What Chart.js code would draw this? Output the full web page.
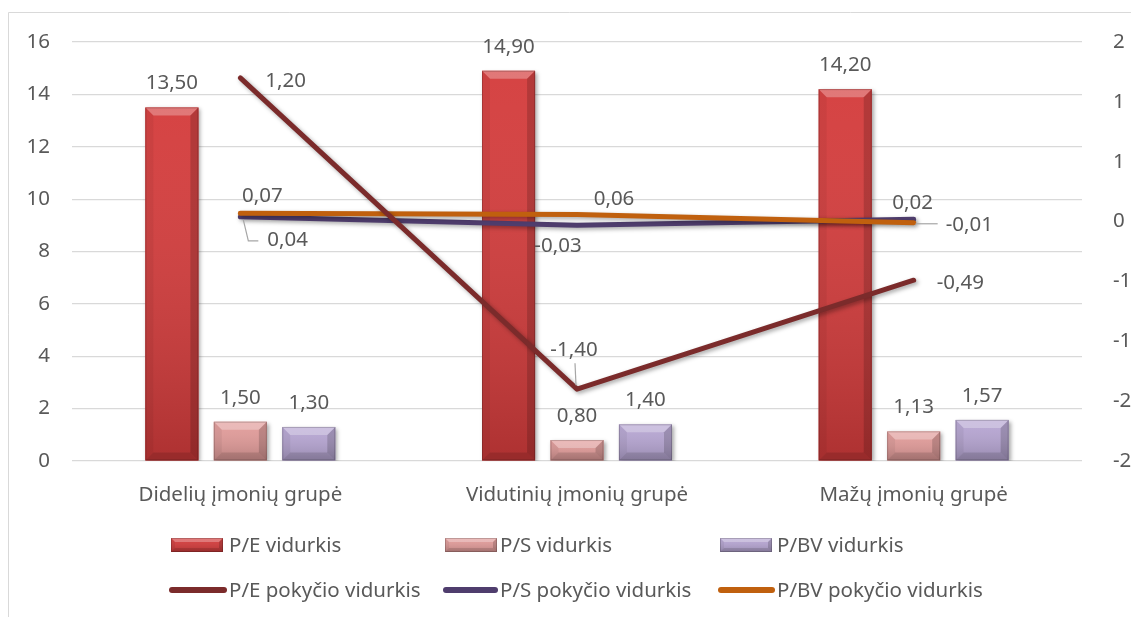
<!DOCTYPE html>
<html>
<head>
<meta charset="utf-8">
<title>Įmonių grupių rodikliai</title>
<script src="https://cdn.jsdelivr.net/npm/chart.js@4.4.1/dist/chart.umd.min.js"></script>
<style>
  html, body { margin: 0; padding: 0; background: #ffffff; }
  #wrap { width: 1131px; height: 617px; position: relative; }
</style>
</head>
<body>
<div id="wrap"><canvas id="chart" width="1131" height="617"></canvas></div>
<script>
// Categories and series
const categories = ['Didelių įmonių grupė', 'Vidutinių įmonių grupė', 'Mažų įmonių grupė'];
const peAvg = [13.50, 14.90, 14.20];
const psAvg = [1.50, 0.80, 1.13];
const pbvAvg = [1.30, 1.40, 1.57];
const peChange = [1.20, -1.40, -0.49];
const psChange = [0.04, -0.03, 0.02];
const pbvChange = [0.07, 0.06, -0.01];

// Axis ticks
const leftTicks = [0, 2, 4, 6, 8, 10, 12, 14, 16];
const rightTicks = [-2, -1.5, -1, -0.5, 0, 0.5, 1, 1.5];

const FONT = '"Noto Sans"';
const FONT_SIZE = 20.5;
const TEXT = '#595959';

const fmt = v => v.toFixed(2).replace('.', ',');
// whole-number axis format, halves rounded away from zero
const fmtInt = v => { const r = Math.sign(v) * Math.round(Math.abs(v)); return String(r === 0 ? 0 : r); };

// Label placement for the line series: offset from the point, text alignment, leader line
const lineLabelPlacement = {
  'P/E pokyčio vidurkis': [
    { dx: 25, dy: 9, align: 'left' },
    { dx: -3, dy: -33, align: 'center', leader: [[-1, -4], [-2, -26]] },
    { dx: 23, dy: 9, align: 'left' }
  ],
  'P/S pokyčio vidurkis': [
    { dx: 27, dy: 29, align: 'left', leader: [[3, 3], [8, 24], [18, 24]] },
    { dx: -19, dy: 27, align: 'center' },
    { dx: -1, dy: -10, align: 'center' }
  ],
  'P/BV pokyčio vidurkis': [
    { dx: 22, dy: -11, align: 'center' },
    { dx: 37, dy: -9, align: 'center' },
    { dx: 32, dy: 8, align: 'left', leader: [[2, 1], [24, 1]] }
  ]
};

// Draws a bevelled bar box (used for bars and legend swatches)
function bevelBox(ctx, l, t, r, b, base, bev) {
  const w = r - l, h = b - t;
  const k = Math.min(bev, w / 2, h / 2);
  ctx.save();
  ctx.fillStyle = base;
  ctx.fillRect(l, t, w, h);
  const g = ctx.createLinearGradient(0, t, 0, b);
  g.addColorStop(0, 'rgba(255,255,255,0.04)');
  g.addColorStop(1, 'rgba(0,0,0,0.18)');
  ctx.fillStyle = g;
  ctx.fillRect(l, t, w, h);
  // top bevel
  ctx.beginPath();
  ctx.moveTo(l, t); ctx.lineTo(r, t); ctx.lineTo(r - k, t + k); ctx.lineTo(l + k, t + k); ctx.closePath();
  ctx.fillStyle = 'rgba(255,255,255,0.28)';
  ctx.fill();
  // bottom bevel
  ctx.beginPath();
  ctx.moveTo(l, b); ctx.lineTo(r, b); ctx.lineTo(r - k, b - k); ctx.lineTo(l + k, b - k); ctx.closePath();
  ctx.fillStyle = 'rgba(0,0,0,0.12)';
  ctx.fill();
  // left side
  ctx.beginPath();
  ctx.moveTo(l, t); ctx.lineTo(l + k, t + k); ctx.lineTo(l + k, b - k); ctx.lineTo(l, b); ctx.closePath();
  ctx.fillStyle = 'rgba(0,0,0,0.05)';
  ctx.fill();
  // right side
  ctx.beginPath();
  ctx.moveTo(r, t); ctx.lineTo(r - k, t + k); ctx.lineTo(r - k, b - k); ctx.lineTo(r, b); ctx.closePath();
  ctx.fillStyle = 'rgba(0,0,0,0.16)';
  ctx.fill();
  ctx.strokeStyle = 'rgba(0,0,0,0.18)';
  ctx.lineWidth = 1;
  ctx.strokeRect(l + 0.5, t + 0.5, w - 1, h - 1);
  ctx.restore();
}

// Outer frame of the chart
const framePlugin = {
  id: 'frame',
  beforeDraw(chart) {
    const ctx = chart.ctx;
    ctx.save();
    ctx.fillStyle = '#ffffff';
    ctx.fillRect(0, 0, chart.width, chart.height);
    ctx.strokeStyle = '#d9d9d9';
    ctx.lineWidth = 1;
    ctx.beginPath();
    ctx.moveTo(8.5, chart.height);
    ctx.lineTo(8.5, 12.5);
    ctx.lineTo(chart.width, 12.5);
    ctx.stroke();
    ctx.restore();
  }
};

// Shadows under lines and bars, bevel on top of bars
const shadePlugin = {
  id: 'shade',
  beforeDatasetDraw(chart, args) {
    const ctx = chart.ctx;
    ctx.save();
    ctx.shadowColor = 'rgba(0,0,0,0.35)';
    ctx.shadowBlur = 4;
    ctx.shadowOffsetX = 2;
    ctx.shadowOffsetY = 2;
  },
  afterDatasetDraw(chart, args) {
    const ctx = chart.ctx;
    ctx.restore();
    const meta = args.meta;
    if (meta.type !== 'bar') return;
    const color = chart.data.datasets[args.index].backgroundColor;
    meta.data.forEach(el => {
      const p = el.getProps(['x', 'y', 'base', 'width'], true);
      bevelBox(ctx, p.x - p.width / 2, Math.min(p.y, p.base), p.x + p.width / 2, Math.max(p.y, p.base), color, 8);
    });
  }
};

// Value labels
const valueLabelPlugin = {
  id: 'valueLabels',
  afterDatasetsDraw(chart) {
    const ctx = chart.ctx;
    ctx.save();
    ctx.font = `${FONT_SIZE}px ${FONT}`;
    ctx.fillStyle = TEXT;
    ctx.textBaseline = 'alphabetic';
    chart.data.datasets.forEach((ds, i) => {
      const meta = chart.getDatasetMeta(i);
      meta.data.forEach((el, j) => {
        const p = el.getProps(['x', 'y'], true);
        const text = fmt(ds.data[j]);
        if (meta.type === 'bar') {
          ctx.textAlign = 'center';
          ctx.fillText(text, p.x, p.y - 18);
        } else {
          const pl = lineLabelPlacement[ds.label][j];
          if (pl.leader) {
            ctx.save();
            ctx.strokeStyle = '#a6a6a6';
            ctx.lineWidth = 1.2;
            ctx.beginPath();
            pl.leader.forEach(([lx, ly], k) => {
              if (k === 0) ctx.moveTo(p.x + lx, p.y + ly); else ctx.lineTo(p.x + lx, p.y + ly);
            });
            ctx.stroke();
            ctx.restore();
          }
          ctx.textAlign = pl.align;
          ctx.fillText(text, p.x + pl.dx, p.y + pl.dy);
        }
      });
    });
    ctx.restore();
  }
};

// Two-row legend
const legendPlugin = {
  id: 'twoRowLegend',
  afterDraw(chart) {
    const ctx = chart.ctx;
    const cols = [171, 445, 720];
    const textX = [229, 500, 777];
    const rows = [545, 590];
    const bars = chart.data.datasets.filter(d => d.type === 'bar');
    const lines = ['P/E pokyčio vidurkis', 'P/S pokyčio vidurkis', 'P/BV pokyčio vidurkis']
      .map(n => chart.data.datasets.find(d => d.label === n));
    ctx.save();
    ctx.font = `${FONT_SIZE}px ${FONT}`;
    ctx.fillStyle = TEXT;
    ctx.textBaseline = 'middle';
    ctx.textAlign = 'left';
    bars.forEach((d, i) => {
      bevelBox(ctx, cols[i], rows[0] - 7, cols[i] + 52, rows[0] + 7, d.backgroundColor, 4);
      ctx.fillStyle = TEXT;
      ctx.fillText(d.label, textX[i], rows[0] + 1);
    });
    lines.forEach((d, i) => {
      ctx.save();
      ctx.strokeStyle = d.borderColor;
      ctx.lineWidth = 6;
      ctx.lineCap = 'round';
      ctx.beginPath();
      ctx.moveTo(cols[i] + 1, rows[1]);
      ctx.lineTo(textX[i] - 5, rows[1]);
      ctx.stroke();
      ctx.restore();
      ctx.fillStyle = TEXT;
      ctx.fillText(d.label, textX[i], rows[1] + 1);
    });
    ctx.restore();
  }
};

const lineBase = {
  type: 'line',
  yAxisID: 'y1',
  borderWidth: 5,
  pointRadius: 0,
  pointHoverRadius: 0,
  tension: 0,
  borderCapStyle: 'round',
  borderJoinStyle: 'round',
  fill: false
};

const barBase = {
  type: 'bar',
  yAxisID: 'y',
  order: 3,
  borderWidth: 0,
  categoryPercentage: 0.61,
  barPercentage: 0.775
};

new Chart(document.getElementById('chart'), {
  data: {
    labels: categories,
    datasets: [
      { ...lineBase, label: 'P/E pokyčio vidurkis', data: peChange, borderColor: '#7b2b2b', order: 0 },
      { ...lineBase, label: 'P/BV pokyčio vidurkis', data: pbvChange, borderColor: '#c0600e', order: 1 },
      { ...lineBase, label: 'P/S pokyčio vidurkis', data: psChange, borderColor: '#4f3d6d', order: 2 },
      { ...barBase, label: 'P/E vidurkis', data: peAvg, backgroundColor: '#d43c3c' },
      { ...barBase, label: 'P/S vidurkis', data: psAvg, backgroundColor: '#e29c9a' },
      { ...barBase, label: 'P/BV vidurkis', data: pbvAvg, backgroundColor: '#b7a6d3' }
    ]
  },
  options: {
    responsive: false,
    animation: false,
    devicePixelRatio: 1,
    layout: { padding: { top: 42, left: 0, right: 0, bottom: 100 } },
    plugins: {
      legend: { display: false },
      tooltip: { enabled: false }
    },
    scales: {
      x: {
        grid: { display: false },
        border: { display: false },
        ticks: { color: TEXT, font: { family: 'Noto Sans', size: FONT_SIZE }, padding: 14, maxRotation: 0 },
        afterFit: s => { s.height = 56; }
      },
      y: {
        position: 'left',
        min: 0, max: 16,
        afterBuildTicks: s => { s.ticks = leftTicks.map(v => ({ value: v })); },
        ticks: { color: TEXT, font: { family: 'Noto Sans', size: FONT_SIZE }, padding: 22 },
        grid: { color: '#d9d9d9', lineWidth: 1.2, drawTicks: false },
        border: { display: false },
        afterFit: s => { s.width = 72; }
      },
      y1: {
        position: 'right',
        min: -2, max: 1.5,
        afterBuildTicks: s => { s.ticks = rightTicks.map(v => ({ value: v })); },
        ticks: { color: TEXT, font: { family: 'Noto Sans', size: FONT_SIZE }, padding: 23, callback: v => fmtInt(v) },
        grid: { display: false },
        border: { display: false },
        afterFit: s => { s.width = 49; }
      }
    }
  },
  plugins: [framePlugin, shadePlugin, valueLabelPlugin, legendPlugin]
});
</script>
</body>
</html>
